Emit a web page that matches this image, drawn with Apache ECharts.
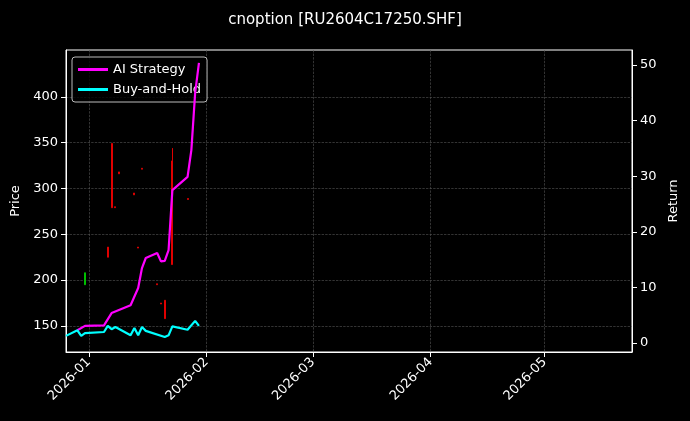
<!DOCTYPE html>
<html><head><meta charset="utf-8">
<script src="https://cdn.jsdelivr.net/npm/echarts@6/dist/echarts.min.js"></script>
<style>html,body{margin:0;background:#000}#c{width:690px;height:421px}</style>
</head><body><div id="c"></div>
<script>
// candles: date, open, close, low, high
const candleDates = ['2025-12-31','2026-01-06','2026-01-07','2026-01-08','2026-01-09','2026-01-13','2026-01-14','2026-01-15','2026-01-19','2026-01-20','2026-01-21','2026-01-23','2026-01-27'];
const candleOHLC = [
  [195,208,195,208],[236,225,225,236],[349,279,279,349],[280,279,279,280],[318,316,316,318],
  [295,293,293,295],[236,235,235,236],[322,321,321,322],[196,195,195,196],[175,174,174,175],
  [178,158,158,178],[330,217,217,344],[289,288,288,289]
];
const aiDates = ['2025-12-29','2025-12-31','2026-01-05','2026-01-07','2026-01-12','2026-01-14','2026-01-15','2026-01-16','2026-01-19','2026-01-20','2026-01-21','2026-01-22','2026-01-23','2026-01-27','2026-01-28','2026-01-29','2026-01-30'];
const aiReturn = [2.3,3.1,3.2,5.4,6.8,9.9,13.5,15.3,16.2,14.7,14.8,16.7,27.5,29.9,34.7,45,50.4];
const bhDates = ['2025-12-26','2025-12-29','2025-12-30','2025-12-31','2026-01-05','2026-01-06','2026-01-07','2026-01-08','2026-01-12','2026-01-13','2026-01-14','2026-01-15','2026-01-16','2026-01-21','2026-01-22','2026-01-23','2026-01-27','2026-01-29','2026-01-30'];
const bhReturn = [1.3,2.3,1.3,1.8,2.0,3.1,2.5,2.9,1.4,2.7,1.4,2.9,2.2,1.1,1.4,3.0,2.4,4.0,3.1];
const priceTicks = [150,200,250,300,350,400];
const returnTicks = [0,10,20,30,40,50];

const white = '#fff';
const gridLine = { show: true, lineStyle: { color: '#555', type: 'dashed', width: 0.6 } };
const chart = echarts.init(document.getElementById('c'));
chart.setOption({
  backgroundColor: '#000',
  animation: false,
  textStyle: { fontFamily: 'DejaVu Sans' },
  title: { text: 'cnoption [RU2604C17250.SHF]', left: 'center', top: 8,
    textStyle: { color: white, fontSize: 15, fontWeight: 'normal' } },
  legend: {
    left: 72, top: 57, orient: 'vertical', itemGap: 7, itemWidth: 30, itemHeight: 3, z: 1,
    backgroundColor: 'rgba(0,0,0,0.8)', borderColor: '#bbb', borderWidth: 1, borderRadius: 3, padding: [6, 6],
    textStyle: { color: white, fontSize: 13 },
    data: [{ name: 'AI Strategy', icon: 'rect' }, { name: 'Buy-and-Hold', icon: 'rect' }]
  },
  grid: { left: 66, right: 58, top: 50, bottom: 69, show: true, borderColor: white, borderWidth: 1, backgroundColor: 'transparent' },
  xAxis: {
    type: 'time', min: '2025-12-26', max: '2026-05-24',
    axisLine: { onZero: false, lineStyle: { color: white } },
    axisTick: { lineStyle: { color: white } },
    axisLabel: { color: white, rotate: 45, fontSize: 13, formatter: '{yyyy}-{MM}', hideOverlap: false },
    splitNumber: 5,
    splitLine: gridLine
  },
  yAxis: [
    { type: 'value', name: 'Price', nameLocation: 'middle', nameGap: 44,
      nameTextStyle: { color: white, fontSize: 13 },
      min: 121.6, max: 451,
      axisLine: { show: true, lineStyle: { color: white } },
      axisTick: { show: true, customValues: priceTicks, lineStyle: { color: white } },
      axisLabel: { color: white, fontSize: 13, customValues: priceTicks },
      splitLine: gridLine },
    { type: 'value', name: 'Return', nameLocation: 'middle', nameGap: 32,
      nameTextStyle: { color: white, fontSize: 13 },
      min: -1.6, max: 52.7, position: 'right',
      axisLine: { show: true, lineStyle: { color: white } },
      axisTick: { show: true, customValues: returnTicks, lineStyle: { color: white } },
      axisLabel: { color: white, fontSize: 13, customValues: returnTicks },
      splitLine: { show: false } }
  ],
  series: [
    { type: 'candlestick', yAxisIndex: 0, barWidth: 1.5,
      itemStyle: { color: '#00c000', color0: '#e00000', borderColor: '#00c000', borderColor0: '#e00000', borderWidth: 1 },
      data: candleDates.map((d, i) => [d].concat(candleOHLC[i])) },
    { name: 'AI Strategy', type: 'line', yAxisIndex: 1, showSymbol: false, z: 10,
      lineStyle: { color: '#ff00ff', width: 2.2 }, itemStyle: { color: '#ff00ff' },
      data: aiDates.map((d, i) => [d, aiReturn[i]]) },
    { name: 'Buy-and-Hold', type: 'line', yAxisIndex: 1, showSymbol: false, z: 10,
      lineStyle: { color: '#00ffff', width: 2.2 }, itemStyle: { color: '#00ffff' },
      data: bhDates.map((d, i) => [d, bhReturn[i]]) }
  ]
});
</script></body></html>
